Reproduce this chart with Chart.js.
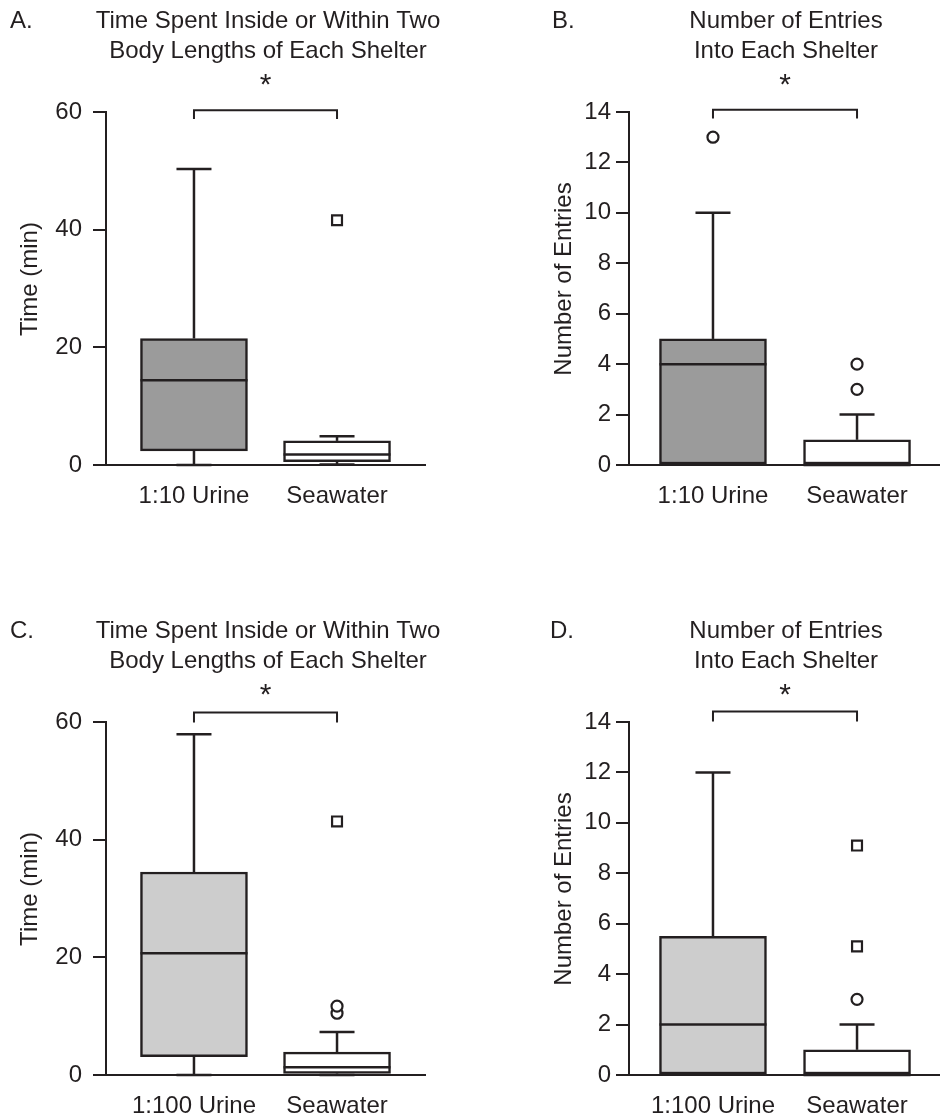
<!DOCTYPE html>
<html>
<head>
<meta charset="utf-8">
<title>Shelter use box plots</title>
<script src="https://cdn.jsdelivr.net/npm/chart.js@4.4.1/dist/chart.umd.min.js"></script>
<style>
  body { margin: 0; background: #fff; overflow: hidden; }
  canvas { position: absolute; }
</style>
</head>
<body>
<canvas id="panelA" width="470" height="610" style="left:0;top:0"></canvas>
<canvas id="panelB" width="470" height="610" style="left:470px;top:0"></canvas>
<canvas id="panelC" width="470" height="506" style="left:0;top:610px"></canvas>
<canvas id="panelD" width="470" height="506" style="left:470px;top:610px"></canvas>
<script>
// groups and axis ticks
const groupsTop = ['1:10 Urine', 'Seawater'];
const groupsBottom = ['1:100 Urine', 'Seawater'];
const timeTicks = [0, 20, 40, 60];
const entryTicks = [0, 2, 4, 6, 8, 10, 12, 14];

// A. time near shelter, 1:10 urine vs seawater (min)
const aMin = [0, 0.1];
const aQ1 = [2.4, 0.55];
const aMedian = [14.4, 1.8];
const aQ3 = [21.5, 4.1];
const aMax = [50.3, 4.9];
const aCircles = [[], []];
const aSquares = [[], [41.6]];

// B. entries, 1:10 urine vs seawater
const bMin = [0, 0];
const bQ1 = [0, 0];
const bMedian = [4, 0];
const bQ3 = [5, 1];
const bMax = [10, 2];
const bCircles = [[13], [3, 4]];
const bSquares = [[], []];

// C. time near shelter, 1:100 urine vs seawater (min)
const cMin = [0, 0];
const cQ1 = [3.1, 0.25];
const cMedian = [20.7, 1.3];
const cQ3 = [34.5, 3.9];
const cMax = [57.9, 7.3];
const cCircles = [[], [10.5, 11.7]];
const cSquares = [[], [43.1]];

// D. entries, 1:100 urine vs seawater
const dMin = [0, 0];
const dQ1 = [0, 0];
const dMedian = [2, 0];
const dQ3 = [5.5, 1];
const dMax = [12, 2];
const dCircles = [[], [3]];
const dSquares = [[], [9.1, 5.1]];

const ink = '#231f20';
const fontFamily = '"Liberation Sans", Arial, Helvetica, sans-serif';
Chart.defaults.font.family = fontFamily;
Chart.defaults.color = ink;

function toPoints(lists) {
  const pts = [];
  lists.forEach((vals, i) => vals.forEach(v => pts.push({ x: i + 1, y: v })));
  return pts;
}

function makePanel(id, cfg) {
  const boxes = cfg.q1.map((q, i) => ({ x: i + 1, y: [q, cfg.q3[i]] }));

  // whiskers, medians, bracket and texts
  const extras = {
    id: 'extras' + id,
    afterDraw(chart) {
      const { ctx, chartArea } = chart;
      const x = chart.scales.x, y = chart.scales.y;
      const bars = chart.getDatasetMeta(0).data;
      const line = (x1, y1, x2, y2) => { ctx.beginPath(); ctx.moveTo(x1, y1); ctx.lineTo(x2, y2); ctx.stroke(); };
      ctx.save();
      ctx.strokeStyle = ink;
      ctx.lineWidth = 2.5;
      bars.forEach((bar, i) => {
        const cx = bar.x, half = bar.width / 2;
        const ym = y.getPixelForValue(cfg.median[i]);
        line(cx - half, ym, cx + half, ym);
        if (cfg.max[i] > cfg.q3[i]) {
          const yt = y.getPixelForValue(cfg.max[i]);
          line(cx, y.getPixelForValue(cfg.q3[i]), cx, yt);
          line(cx - 17.5, yt, cx + 17.5, yt);
        }
        if (cfg.min[i] < cfg.q1[i]) {
          const yb = y.getPixelForValue(cfg.min[i]);
          line(cx, y.getPixelForValue(cfg.q1[i]), cx, yb);
          line(cx - 17.5, yb, cx + 17.5, yb);
        }
      });
      // significance bracket
      ctx.lineWidth = 2;
      const x1 = x.getPixelForValue(1), x2 = x.getPixelForValue(2);
      const yB = y.getPixelForValue(cfg.bracket[0]), yE = y.getPixelForValue(cfg.bracket[1]);
      ctx.beginPath();
      ctx.moveTo(x1, yE); ctx.lineTo(x1, yB); ctx.lineTo(x2, yB); ctx.lineTo(x2, yE);
      ctx.stroke();

      ctx.fillStyle = ink;
      ctx.textBaseline = 'alphabetic';
      ctx.textAlign = 'center';
      ctx.font = '30px ' + fontFamily;
      ctx.fillText('*', (x1 + x2) / 2, chartArea.top - 18);
      ctx.font = '24px ' + fontFamily;
      ctx.fillText(cfg.title[0], cfg.titleX, 28);
      ctx.fillText(cfg.title[1], cfg.titleX, 58);
      ctx.textAlign = 'left';
      ctx.fillText(cfg.letter, cfg.letterX, 28);
      // y axis title
      ctx.translate(cfg.yTitleX, 279);
      ctx.rotate(-Math.PI / 2);
      ctx.textAlign = 'center';
      ctx.fillText(cfg.yTitle, 0, 0);
      ctx.restore();
    }
  };

  new Chart(document.getElementById(id), {
    type: 'bar',
    data: {
      datasets: [
        {
          type: 'bar',
          data: boxes,
          backgroundColor: [cfg.fill, '#ffffff'],
          borderColor: ink,
          borderWidth: 2.5,
          borderSkipped: false,
          barThickness: 107
        },
        {
          type: 'scatter',
          data: toPoints(cfg.circles),
          pointStyle: 'circle',
          pointRadius: 5.5,
          pointBackgroundColor: '#ffffff',
          pointBorderColor: ink,
          pointBorderWidth: 2.2
        },
        {
          type: 'scatter',
          data: toPoints(cfg.squares),
          pointStyle: 'rect',
          pointRadius: 7,
          pointBackgroundColor: '#ffffff',
          pointBorderColor: ink,
          pointBorderWidth: 2.2
        }
      ]
    },
    options: {
      responsive: false,
      animation: false,
      events: [],
      layout: {
        autoPadding: false,
        padding: { top: 112, right: cfg.padRight, bottom: cfg.padBottom, left: 0 }
      },
      plugins: { legend: { display: false }, tooltip: { enabled: false } },
      scales: {
        x: {
          type: 'linear',
          offset: false,
          min: cfg.xRange[0],
          max: cfg.xRange[1],
          grid: { display: false, offset: false },
          border: { color: ink, width: 2 },
          afterBuildTicks: s => { s.ticks = cfg.groups.map((g, i) => ({ value: i + 1 })); },
          afterFit: s => { s.height = 41; s.paddingLeft = 0; s.paddingRight = 0; },
          ticks: {
            color: ink,
            font: { size: 24 },
            padding: 9,
            autoSkip: false,
            maxRotation: 0,
            callback: (v, i) => cfg.groups[i]
          }
        },
        y: {
          min: 0,
          max: cfg.yTicks[cfg.yTicks.length - 1],
          afterBuildTicks: s => { s.ticks = cfg.yTicks.map(v => ({ value: v })); },
          afterFit: s => { s.width = cfg.axisLeft; },
          grid: { drawOnChartArea: false, color: ink, lineWidth: 2, tickLength: 13 },
          border: { color: ink, width: 2 },
          ticks: { color: ink, font: { size: 24 }, padding: cfg.tickPad }
        }
      }
    },
    plugins: [extras]
  });
}

const timeTitle = ['Time Spent Inside or Within Two', 'Body Lengths of Each Shelter'];
const entryTitle = ['Number of Entries', 'Into Each Shelter'];

makePanel('panelA', {
  groups: groupsTop, yTicks: timeTicks, fill: '#9b9b9b',
  min: aMin, q1: aQ1, median: aMedian, q3: aQ3, max: aMax, circles: aCircles, squares: aSquares,
  bracket: [60.3, 58.8], title: timeTitle, titleX: 268, letter: 'A.', letterX: 10,
  yTitle: 'Time (min)', yTitleX: 37, axisLeft: 106, xRange: [0.385, 2.615],
  padRight: 45, padBottom: 104, tickPad: 11
});
makePanel('panelB', {
  groups: groupsTop, yTicks: entryTicks, fill: '#9b9b9b',
  min: bMin, q1: bQ1, median: bMedian, q3: bQ3, max: bMax, circles: bCircles, squares: bSquares,
  bracket: [14.09, 13.74], title: entryTitle, titleX: 316, letter: 'B.', letterX: 82,
  yTitle: 'Number of Entries', yTitleX: 101, axisLeft: 159, xRange: [0.417, 2.576],
  padRight: 0, padBottom: 104, tickPad: 5
});
makePanel('panelC', {
  groups: groupsBottom, yTicks: timeTicks, fill: '#cdcdcd',
  min: cMin, q1: cQ1, median: cMedian, q3: cQ3, max: cMax, circles: cCircles, squares: cSquares,
  bracket: [61.6, 59.9], title: timeTitle, titleX: 268, letter: 'C.', letterX: 10,
  yTitle: 'Time (min)', yTitleX: 37, axisLeft: 106, xRange: [0.385, 2.615],
  padRight: 45, padBottom: 0, tickPad: 11
});
makePanel('panelD', {
  groups: groupsBottom, yTicks: entryTicks, fill: '#cdcdcd',
  min: dMin, q1: dQ1, median: dMedian, q3: dQ3, max: dMax, circles: dCircles, squares: dSquares,
  bracket: [14.42, 14.02], title: entryTitle, titleX: 316, letter: 'D.', letterX: 80,
  yTitle: 'Number of Entries', yTitleX: 101, axisLeft: 159, xRange: [0.417, 2.576],
  padRight: 0, padBottom: 0, tickPad: 5
});
</script>
</body>
</html>
